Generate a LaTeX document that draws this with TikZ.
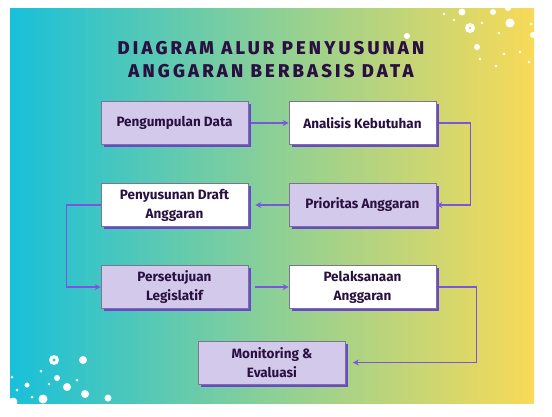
\documentclass[tikz,border=0pt]{standalone}
\usepackage{fontspec}
\setmainfont{Fira Sans}
\newfontfamily\titlefont[LetterSpace=17]{Fira Sans ExtraBold}
\newfontfamily\boxfont{Fira Sans Bold}
\usetikzlibrary{arrows.meta,shadows}
\definecolor{cyanL}{HTML}{18C0DA}
\definecolor{greenM}{HTML}{8CD096}
\definecolor{yellowR}{HTML}{F8DA58}
\definecolor{lav}{HTML}{D3C9EA}
\definecolor{ink}{HTML}{2A1040}
\definecolor{arrowc}{HTML}{7B55E0}
\definecolor{shadowc}{HTML}{6A45D8}
\definecolor{edgec}{HTML}{7D7590}
\tikzset{
  boxbase/.style={draw=edgec, line width=0.6pt, minimum width=147pt, minimum height=43pt,
    align=center, text=ink, font=\boxfont\fontsize{13.5}{19}\selectfont, inner sep=2pt,
    drop shadow={shadow xshift=2.5pt, shadow yshift=-2.5pt, fill=shadowc, opacity=1}},
  lavbox/.style={boxbase, fill=lav},
  whitebox/.style={boxbase, fill=white},
  flow/.style={draw=arrowc, line width=1.3pt, -{Stealth[length=6pt,width=6pt]}},
  dot/.style={fill=white, draw=none}
}
\begin{document}
\begin{tikzpicture}[x=1pt,y=-1pt]
\useasboundingbox (0,0) rectangle (552,416);
\fill[white] (0,0) rectangle (552,416);
\shade[left color=cyanL, right color=yellowR, middle color=greenM] (10,8) rectangle (534,403);
% dots top right
\foreach \x/\y/\r in {462/12/3.5,493/12/3,508/8/3,444/14/1.3,454/20/1.3,510/23/4.5,482/23/1.3,499/33/1.3,531/24/1.5,533/35/3,477/47/3,504/54/1.3,520/52/1.3,480/59/1.3,496/66/1.3,529/62/1.3,407/36/3}
  \fill[dot] (\x,\y) circle (\r);
\fill[white,even odd rule] (470,28) circle (5) (470,28) circle (1.6);
% dots bottom left
\foreach \x/\y/\r in {83/360/4,41/371/1.5,12/377/1.5,57/378/3,77/380/1.5,27/385/2.5,49/384/1.3,67/387/4,17/390/1.5,85/394/4,32/397/1.5,43/399/4.5,13/402/4.5,108/398/3.5}
  \fill[dot] (\x,\y) circle (\r);
\fill[white,even odd rule] (54,360) circle (5) (54,360) circle (1.8);
% title
\node[text=ink, font=\titlefont\fontsize{18.5}{23}\selectfont, align=center] (title) at (271,60) {DIAGRAM ALUR PENYUSUNAN\\ANGGARAN BERBASIS DATA};
% boxes
\node[lavbox] (A) at (174.5,123) {Pengumpulan Data};
\node[whitebox] (B) at (362.5,123) {Analisis Kebutuhan};
\node[lavbox] (C) at (362.5,205) {Prioritas Anggaran};
\node[whitebox] (D) at (174.5,205) {Penyusunan Draft\\Anggaran};
\node[lavbox] (E) at (174.5,287) {Persetujuan\\Legislatif};
\node[whitebox] (F) at (362.5,287) {Pelaksanaan\\Anggaran};
\node[lavbox] (G) at (272,362.5) {Monitoring \&\\Evaluasi};
% connectors
\draw[flow, shorten <=3pt] (A.east) -- (B.west);
\draw[flow, shorten <=3pt] (B.east) -- ++(34,0) |- (C.east);
\draw[flow, shorten >=7pt] (C.west) -- (D.east);
\draw[flow] (D.west) -- ++(-34,0) |- (E.west);
\draw[flow, shorten <=7pt] (E.east) -- (F.west);
\draw[flow, shorten <=3pt, shorten >=7pt] (F.east) -- ++(40,0) |- (G.east);
\end{tikzpicture}
\end{document}
